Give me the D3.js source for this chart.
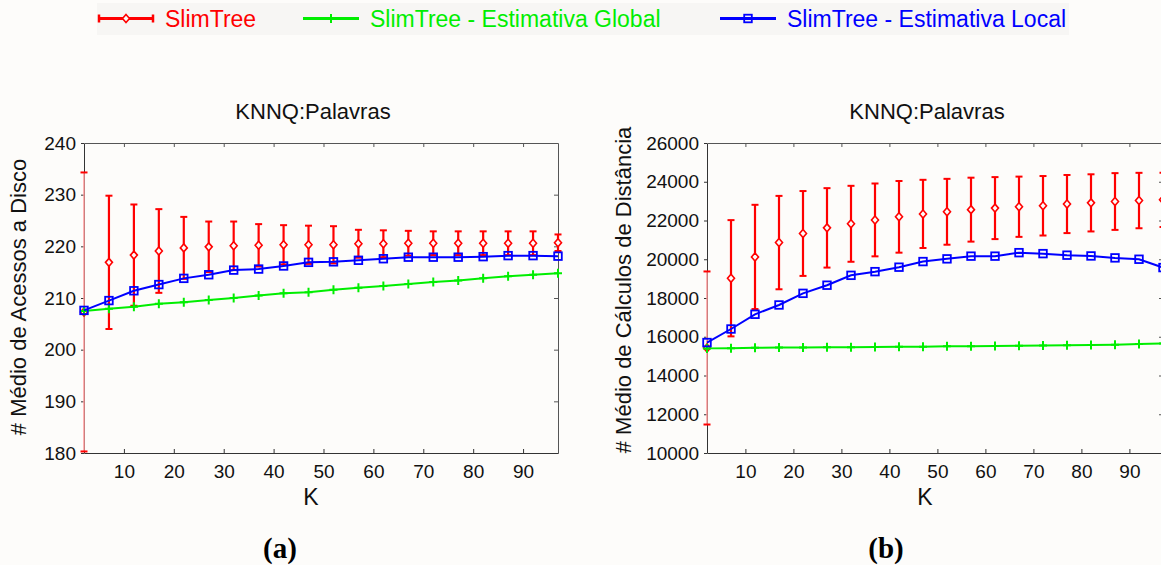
<!DOCTYPE html>
<html>
<head>
<meta charset="utf-8">
<script src="https://cdn.jsdelivr.net/npm/d3@7"></script>
<style>
  body { margin: 0; background: #fdfcfa; }
  text { font-family: Arial, "Liberation Sans", sans-serif; }
</style>
</head>
<body>
<div id="chart"></div>
<script>
var width = 1161;
var height = 565;

// K values on the x axis
var kValues = [2, 7, 12, 17, 22, 27, 32, 37, 42, 47, 52, 57, 62, 67, 72, 77, 82, 87, 92, 97];
var kTicks = [10, 20, 30, 40, 50, 60, 70, 80, 90];

// (a) disk accesses
var accSlim    = [207.3, 216.9, 218.3, 219.1, 219.7, 219.9, 220.1, 220.2, 220.3, 220.3, 220.3, 220.5, 220.5, 220.6, 220.6, 220.6, 220.6, 220.6, 220.6, 220.7];
var accSlimErr = [27.0, 12.9, 9.8, 8.1, 6.0, 4.9, 4.7, 4.1, 3.8, 3.7, 3.6, 2.7, 2.6, 2.4, 2.3, 2.3, 2.3, 2.3, 2.3, 1.6];
var accGlobal  = [207.5, 207.9, 208.3, 208.9, 209.2, 209.6, 210.0, 210.5, 210.9, 211.1, 211.6, 212.0, 212.3, 212.7, 213.1, 213.4, 213.8, 214.2, 214.5, 214.8];
var accLocal   = [207.6, 209.5, 211.4, 212.6, 213.8, 214.5, 215.4, 215.6, 216.2, 216.9, 217.0, 217.3, 217.6, 217.9, 217.9, 217.9, 218.0, 218.2, 218.2, 218.1];
var accTicks   = [180, 190, 200, 210, 220, 230, 240];

// (b) distance calculations
var distSlim    = [15420, 19020, 20120, 20860, 21330, 21620, 21830, 22030, 22190, 22340, 22450, 22560, 22640, 22710, 22760, 22850, 22910, 22980, 23030, 23070];
var distSlimErr = [3950, 3000, 2690, 2410, 2190, 2050, 1960, 1880, 1850, 1760, 1700, 1650, 1600, 1555, 1535, 1500, 1475, 1465, 1430, 1400];
var distGlobal  = [15400, 15410, 15430, 15440, 15450, 15460, 15460, 15470, 15480, 15490, 15510, 15510, 15520, 15540, 15550, 15560, 15580, 15590, 15620, 15650];
var distLocal   = [15700, 16400, 17160, 17640, 18240, 18660, 19170, 19360, 19590, 19880, 20020, 20160, 20160, 20340, 20290, 20210, 20170, 20070, 20000, 19570];
var distTicks   = [10000, 12000, 14000, 16000, 18000, 20000, 22000, 24000, 26000];

var red = "#ff0000", green = "#00ee00", blue = "#0000ff";

var svg = d3.select("#chart")
    .append("svg")
    .attr("width", width)
    .attr("height", height);

// legend
svg.append("rect")
    .attr("x", 97).attr("y", 3)
    .attr("width", 972).attr("height", 32)
    .attr("fill", "#f7f6f4");

function legendItem(x, color, label, marker) {
  var g = svg.append("g").attr("transform", "translate(" + x + ",18.5)");
  g.append("line").attr("x1", 0).attr("x2", 56)
      .attr("stroke", color).attr("stroke-width", 3);
  if (marker == "err") {
    g.append("line").attr("x1", 1).attr("x2", 1).attr("y1", -4).attr("y2", 4)
        .attr("stroke", color).attr("stroke-width", 2.5);
    g.append("line").attr("x1", 55).attr("x2", 55).attr("y1", -4).attr("y2", 4)
        .attr("stroke", color).attr("stroke-width", 2.5);
  }
  drawMarker(g, marker, 28, 0, color);
  g.append("text")
      .attr("x", 67).attr("y", 8.5)
      .attr("fill", color)
      .style("font-size", "23px")
      .text(label);
}

function drawMarker(g, marker, x, y, color) {
  if (marker == "err") {
    g.append("path")
        .attr("transform", "translate(" + x + "," + y + ")")
        .attr("d", "M0,-4L3.5,0L0,4L-3.5,0Z")
        .attr("fill", "#fdfcfa").attr("stroke", color).attr("stroke-width", 1.6);
  } else if (marker == "plus") {
    g.append("path")
        .attr("transform", "translate(" + x + "," + y + ")")
        .attr("d", "M-4,0H4M0,-4.5V4.5")
        .attr("fill", "none").attr("stroke", color).attr("stroke-width", 2);
  } else {
    g.append("rect")
        .attr("x", x - 3.8).attr("y", y - 3.8)
        .attr("width", 7.6).attr("height", 7.6)
        .attr("fill", "none").attr("stroke", color).attr("stroke-width", 1.8);
  }
}

legendItem(98, red, "SlimTree", "err");
legendItem(303, green, "SlimTree - Estimativa Global", "plus");
legendItem(720, blue, "SlimTree - Estimativa Local", "square");

// one panel
function panel(opt) {
  var x = d3.scaleLinear().domain([2, 97]).range([opt.left, opt.right]);
  var y = d3.scaleLinear().domain(opt.domain).range([453, 143]);
  var g = svg.append("g");

  // clip vertically only
  g.append("clipPath").attr("id", opt.id)
    .append("rect")
      .attr("x", opt.left - 20).attr("y", 143)
      .attr("width", opt.right - opt.left + 40).attr("height", 310);

  // title
  g.append("text")
      .attr("x", (opt.left + opt.right) / 2 - 8).attr("y", 119)
      .attr("text-anchor", "middle")
      .style("font-size", "22px").attr("fill", "#111")
      .text("KNNQ:Palavras");

  // top / right box with inner ticks
  g.append("g")
      .attr("transform", "translate(0,143)")
      .attr("color", "#555")
      .call(d3.axisTop(x).tickValues(kTicks).tickSize(-4).tickSizeOuter(0).tickFormat(""));
  g.append("g")
      .attr("transform", "translate(" + opt.right + ",0)")
      .attr("color", "#555")
      .call(d3.axisRight(y).tickValues(opt.ticks).tickSize(-4).tickSizeOuter(0).tickFormat(""));

  // left axis
  var ya = g.append("g")
      .attr("transform", "translate(" + opt.left + ",0)")
      .attr("color", "#333")
      .call(d3.axisLeft(y).tickValues(opt.ticks).tickFormat(d3.format("d"))
          .tickSize(3).tickSizeOuter(0).tickPadding(5));
  ya.selectAll("text").style("font-size", "19px").attr("fill", "#111");

  // bottom axis
  var xa = g.append("g")
      .attr("transform", "translate(0,453)")
      .attr("color", "#333")
      .call(d3.axisBottom(x).tickValues(kTicks).tickSize(-4).tickSizeOuter(0).tickPadding(12));
  xa.selectAll("text").style("font-size", "19px").attr("fill", "#111");

  // axis labels
  g.append("text")
      .attr("x", (opt.left + opt.right) / 2 - 10).attr("y", 505)
      .attr("text-anchor", "middle")
      .style("font-size", "23px").attr("fill", "#111")
      .text("K");
  g.append("text")
      .attr("transform", "translate(" + opt.labelX + "," + opt.labelY + ") rotate(-90)")
      .attr("text-anchor", "middle")
      .attr("dy", "0.35em")
      .style("font-size", "22px").attr("fill", "#111")
      .text(opt.label);

  var data = kValues.map(function(k, i) {
    return {k: k, slim: opt.slim[i], err: opt.err[i], glob: opt.glob[i], local: opt.local[i], i: i};
  });

  var plot = g.append("g").attr("clip-path", "url(#" + opt.id + ")");

  // error bars
  var eb = plot.selectAll(".eb").data(data).enter().append("g");
  eb.append("line")
      .attr("x1", function(d) { return x(d.k); })
      .attr("x2", function(d) { return x(d.k); })
      .attr("y1", function(d) { return y(d.slim - d.err); })
      .attr("y2", function(d) { return y(d.slim + d.err); })
      .attr("stroke", function(d) { return d.i == 0 ? "#ff9a9a" : red; })
      .attr("stroke-width", function(d) { return d.i == 0 ? 1.5 : 2.2; });
  [1, -1].forEach(function(s) {
    eb.append("line")
        .attr("x1", function(d) { return x(d.k) - 3.5; })
        .attr("x2", function(d) { return x(d.k) + 3.5; })
        .attr("y1", function(d) { return y(d.slim + s * d.err); })
        .attr("y2", function(d) { return y(d.slim + s * d.err); })
        .attr("stroke", red).attr("stroke-width", 2);
  });
  eb.each(function(d) { drawMarker(d3.select(this), "err", x(d.k), y(d.slim), red); });

  // global estimate
  plot.append("path")
      .datum(data)
      .attr("fill", "none")
      .attr("stroke", green)
      .attr("stroke-width", 2)
      .attr("d", d3.line().x(function(d) { return x(d.k); }).y(function(d) { return y(d.glob); }));
  data.forEach(function(d) { drawMarker(plot, "plus", x(d.k), y(d.glob), green); });

  // local estimate
  plot.append("path")
      .datum(data)
      .attr("fill", "none")
      .attr("stroke", blue)
      .attr("stroke-width", 2)
      .attr("d", d3.line().x(function(d) { return x(d.k); }).y(function(d) { return y(d.local); }));
  data.forEach(function(d) { drawMarker(plot, "square", x(d.k), y(d.local), blue); });

  // sub caption
  svg.append("text")
      .attr("x", opt.capX).attr("y", 558)
      .attr("text-anchor", "middle")
      .style("font-family", "'Liberation Serif', 'Times New Roman', serif")
      .style("font-weight", "bold")
      .style("font-size", "29px")
      .text(opt.caption);
}

panel({
  id: "clipA", left: 84, right: 558, domain: [180, 240], ticks: accTicks,
  slim: accSlim, err: accSlimErr, glob: accGlobal, local: accLocal,
  label: "# Médio de Acessos a Disco", labelX: 18, labelY: 297,
  caption: "(a)", capX: 280
});

panel({
  id: "clipB", left: 707, right: 1163, domain: [10000, 26000], ticks: distTicks,
  slim: distSlim, err: distSlimErr, glob: distGlobal, local: distLocal,
  label: "# Médio de Cálculos de Distância", labelX: 623, labelY: 290,
  caption: "(b)", capX: 886
});
</script>
</body>
</html>
